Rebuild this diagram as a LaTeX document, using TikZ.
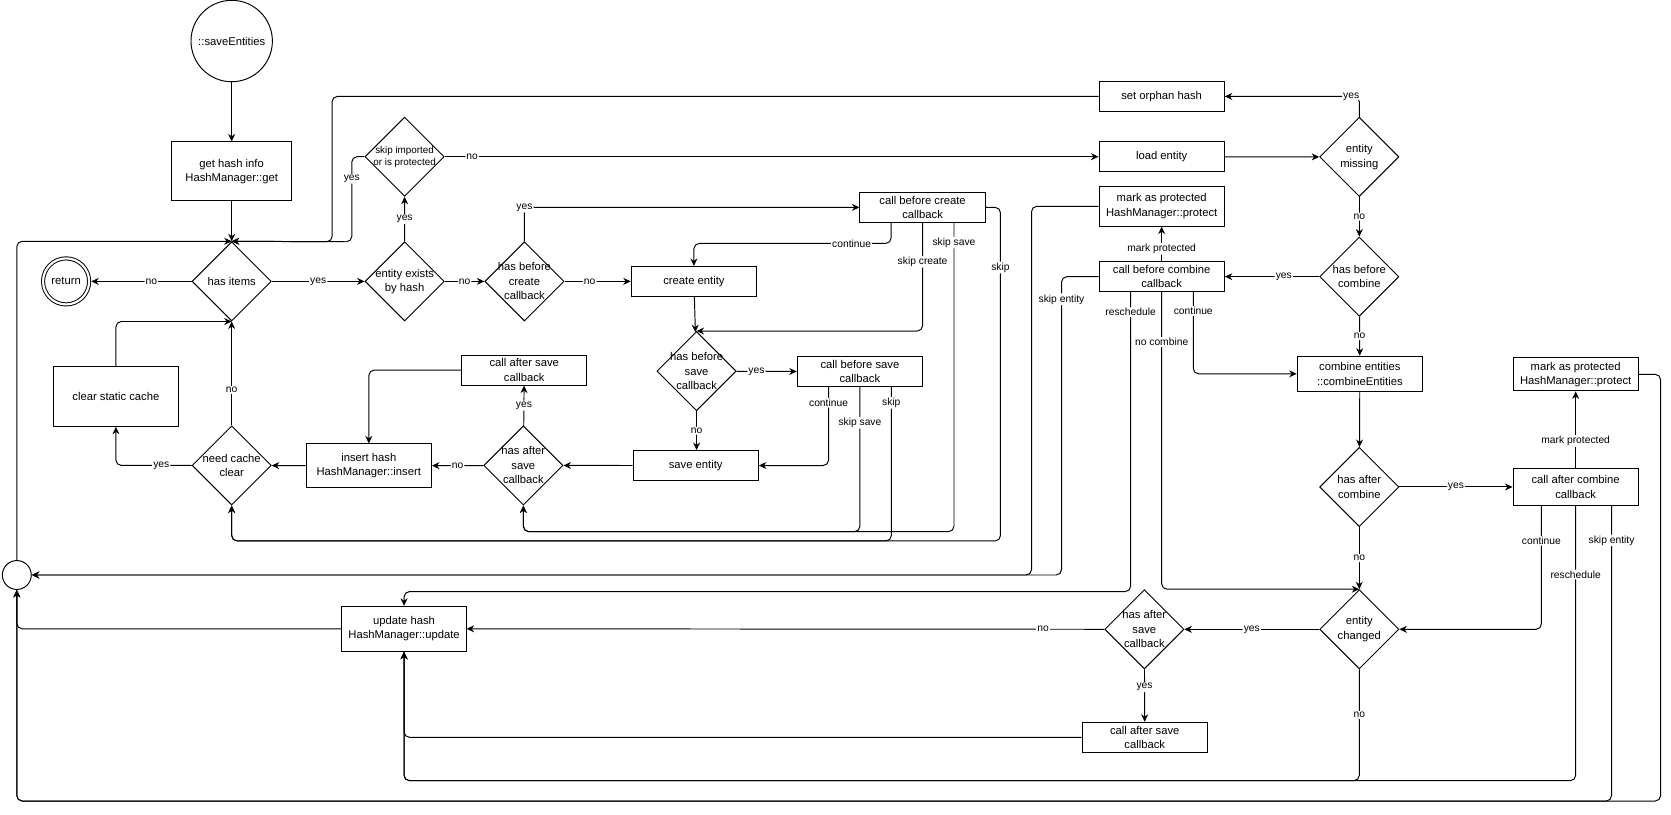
\documentclass[tikz,border=0pt]{standalone}
\usepackage{fontspec}
\setmainfont{Liberation Sans}
\usetikzlibrary{shapes.geometric}
\usetikzlibrary{arrows.meta}
\newcommand{\boxfont}{\fontsize{10.5}{13.5}\selectfont}
\newcommand{\edgefont}{\fontsize{9.6}{11}\selectfont}
\newcommand{\smallboxfont}{\fontsize{9.2}{11.2}\selectfont}
\tikzstyle{process}=[draw, rectangle, inner sep=0, minimum width=117pt, minimum height=28pt, align=center, font=\boxfont]
\tikzstyle{decision}=[draw, diamond, inner sep=0, minimum width=74pt, minimum height=74pt]
\tikzstyle{dtext}=[inner sep=0, align=center, font=\boxfont]
\tikzstyle{sdtext}=[dtext, font=\smallboxfont]
\tikzstyle{terminal}=[draw, circle, inner sep=0, font=\boxfont]
\tikzstyle{flow}=[-{Stealth[length=7pt, width=6.5pt]}, rounded corners=5pt]
\tikzstyle{lbl}=[fill=white, inner sep=1pt, font=\edgefont]
\tikzstyle{flowchart}=[x=1pt, y=-1pt, line width=0.9pt]

\begin{document}
\begin{tikzpicture}[flowchart]
        % page = drawing area
        \useasboundingbox (0, 0) rectangle (1560, 760);
        % left part
        \node[terminal, minimum size=76pt]                              (start) at (216.3, 38.3) {::saveEntities};
        \node[process, minimum width=112pt, minimum height=55pt]       (gethash) at (216.3, 160) {get hash info\\HashManager::get};
        \node[decision, label={[dtext]center:has items}]                (hasitems) at (216.3, 262.7) {};
        \node[terminal, double, double distance=2pt, outer sep=2pt, minimum size=43pt] (return) at (61.7, 262.7) {return};
        \node[decision, label={[sdtext]center:skip imported\\or is protected}] (skipimp) at (377.7, 146.3) {};
        \node[decision, label={[dtext]center:entity exists\\by hash}]   (exists) at (377.8, 262.7) {};
        \node[decision, label={[dtext]center:has before\\create\\callback}] (hasbefcreate) at (489.6, 262.7) {};
        \node[process]                                                  (createent) at (647.8, 262.7) {create entity};
        \node[process]                                                  (callbefcreate) at (861.3, 193.6) {call before create\\callback};
        \node[decision, label={[dtext]center:has before\\save\\callback}] (hasbefsave) at (650.3, 346.5) {};
        \node[process]                                                  (callbefsave) at (802.8, 347) {call before save\\callback};
        \node[process]                                                  (saveent) at (649.5, 434.6) {save entity};
        \node[decision, label={[dtext]center:has after\\save\\callback}] (hasaftsave) at (488.6, 434.5) {};
        \node[process]                                                  (callaftsave) at (489.4, 345.5) {call after save\\callback};
        \node[process, minimum height=41pt]                             (inserthash) at (344.3, 434.9) {insert hash\\HashManager::insert};
        \node[decision, label={[dtext]center:need cache\\clear}]        (needclear) at (216.3, 434.5) {};
        \node[process, minimum height=56pt]                             (clearcache) at (108.2, 370) {clear static cache};
        \node[terminal, minimum size=27pt]                              (junction) at (15.7, 536.8) {};
        \node[process, minimum width=116pt, minimum height=42pt]       (updatehash) at (377.2, 587) {update hash\\HashManager::update};
        % right part
        \node[process]                                                  (orphan) at (1084.5, 90) {set orphan hash};
        \node[process]                                                  (loadent) at (1084.5, 146.3) {load entity};
        \node[process, minimum height=37pt]                             (protect1) at (1084.5, 192.6) {mark as protected\\HashManager::protect};
        \node[process]                                                  (callbefcomb) at (1084.5, 258.3) {call before combine\\callback};
        \node[decision, label={[dtext]center:entity\\missing}]          (entmissing) at (1269, 146.5) {};
        \node[decision, label={[dtext]center:has before\\combine}]      (hasbefcomb) at (1269, 258.3) {};
        \node[process, minimum height=33pt]                             (combine) at (1269.5, 349) {combine entities\\::combineEntities};
        \node[decision, label={[dtext]center:has after\\combine}]       (hasaftcomb) at (1269, 454.6) {};
        \node[process, minimum height=35pt]                             (callaftcomb) at (1471, 454.6) {call after combine\\callback};
        \node[process, minimum height=31pt]                             (protect2) at (1471, 349.5) {mark as protected\\HashManager::protect};
        \node[decision, label={[dtext]center:entity\\changed}]          (entchanged) at (1269, 587.5) {};
        \node[decision, label={[dtext]center:has after\\save\\callback}] (hasaftsave2) at (1068.3, 587.5) {};
        \node[process]                                                  (callaftsave2) at (1068.7, 688.3) {call after save\\callback};
        % main loop
        \draw[flow] (start) -- (gethash);
        \draw[flow] (gethash) -- (hasitems);
        \draw[flow] (hasitems) -- node[lbl, pos=0.4] {no} (return);
        \draw[flow] (hasitems) -- node[lbl] {yes} (exists);
        \draw[flow] (exists) -- node[lbl] {yes} (skipimp);
        \draw[flow] (exists) -- node[lbl] {no} (hasbefcreate);
        \draw[flow] (skipimp.west) -| node[lbl, pos=0.63] {yes} (328.4, 225.7) -- (hasitems.north);
        \draw[flow] (orphan.west) -| (310, 225.7) -- (hasitems.north);
        \draw[flow] (junction.north) |- (hasitems.north);
        \draw[flow] (skipimp.east) -- node[lbl, pos=0.042] {no} (skipimp.east -| loadent.west);
        % create / save
        \draw[flow] (hasbefcreate.north) |- node[lbl, pos=0.5] {yes} (callbefcreate.west);
        \draw[flow] (hasbefcreate) -- node[lbl, pos=0.38] {no} (createent);
        \draw[flow] ([xshift=-29.4pt]callbefcreate.south) |- node[lbl, pos=0.6] {continue} ([yshift=21pt]createent.north) -- (createent.north);
        \draw[flow] (callbefcreate.south) |- node[lbl, pos=0.18] {skip create} (hasbefsave.north);
        \draw[flow] ([xshift=29.3pt]callbefcreate.south) -- node[lbl, pos=0.064] {skip save} (890.6, 496.3) -| (hasaftsave.south);
        \draw[flow] (callbefcreate.east) -- (934, 193.6) -- node[lbl, pos=0.18] {skip} (934, 505) -| (needclear.south);
        \draw[flow] (createent) -- (hasbefsave);
        \draw[flow] (hasbefsave) -- node[lbl, pos=0.33] {yes} (callbefsave);
        \draw[flow] (hasbefsave.south) -- node[lbl] {no} (hasbefsave.south |- saveent.north);
        \draw[flow] ([xshift=-29.3pt]callbefsave.south) |- node[lbl, pos=0.1] {continue} (saveent.east);
        \draw[flow] (callbefsave.south) -- node[lbl, pos=0.246] {skip save} (802.8, 496.3) -| (hasaftsave.south);
        \draw[flow] ([xshift=29.3pt]callbefsave.south) -- node[lbl, pos=0.101] {skip} (832.1, 505) -| (needclear.south);
        \draw[flow] (saveent) -- (hasaftsave);
        \draw[flow] (hasaftsave) -- node[lbl] {yes} (callaftsave);
        \draw[flow] (hasaftsave) -- node[lbl] {no} (inserthash);
        \draw[flow] (callaftsave.west) -| (inserthash.north);
        \draw[flow] (inserthash) -- (needclear);
        \draw[flow] (needclear) -- node[lbl, pos=0.34] {no} (hasitems);
        \draw[flow] (needclear.west) -| node[lbl, pos=0.2] {yes} (clearcache.south);
        \draw[flow] (clearcache.north) |- (hasitems.south);
        % load / combine
        \draw[flow] (loadent) -- (entmissing);
        \draw[flow] (entmissing.north) |- node[lbl, pos=0.53] {yes} (orphan.east);
        \draw[flow] (entmissing) -- node[lbl] {no} (hasbefcomb);
        \draw[flow] (hasbefcomb) -- node[lbl, pos=0.375] {yes} (callbefcomb);
        \draw[flow] (hasbefcomb) -- node[lbl] {no} (combine);
        \draw[flow] (callbefcomb) -- node[lbl, pos=0.36] {mark protected} (protect1);
        \draw[flow] (protect1.west) -| (963, 536.8) -- (junction.east);
        \draw[flow] (callbefcomb.west) -| node[lbl, pos=0.538] {skip entity} (991, 536.8) -- (junction.east);
        \draw[flow] ([xshift=-29pt]callbefcomb.south) -- node[lbl, pos=0.067] {reschedule} (1055.5, 552.3) -| (updatehash.north);
        \draw[flow] (callbefcomb.south) |- node[lbl, pos=0.084] {no combine} (entchanged.north);
        \draw[flow] ([xshift=29.5pt]callbefcomb.south) |- node[lbl, pos=0.115] {continue} (combine.west);
        \draw[flow] (combine) -- (hasaftcomb);
        \draw[flow] (hasaftcomb) -- node[lbl] {yes} (callaftcomb);
        \draw[flow] (hasaftcomb) -- node[lbl] {no} (entchanged);
        \draw[flow] (callaftcomb) -- node[lbl, pos=0.35] {mark protected} (protect2);
        \draw[flow] (protect2.east) -| (1550.3, 747.8) -| (junction.south);
        \draw[flow] ([xshift=-32pt]callaftcomb.south) |- node[lbl, pos=0.14] {continue} (entchanged.east);
        \draw[flow] (callaftcomb.south) -- node[lbl, pos=0.249] {reschedule} (1471, 728.8) -| (updatehash.south);
        \draw[flow] ([xshift=33.5pt]callaftcomb.south) -- node[lbl, pos=0.116] {skip entity} (1504.5, 747.8) -| (junction.south);
        % update
        \draw[flow] (entchanged) -- node[lbl] {yes} (hasaftsave2);
        \draw[flow] (entchanged.south) -- node[lbl, pos=0.41] {no} (1269, 728.8) -| (updatehash.south);
        \draw[flow] (hasaftsave2) -- node[lbl, pos=0.096] {no} (updatehash);
        \draw[flow] (hasaftsave2) -- node[lbl, pos=0.34] {yes} (callaftsave2);
        \draw[flow] (callaftsave2.west) -| (updatehash.south);
        \draw[flow] (updatehash.west) -| (junction.south);
\end{tikzpicture}
\end{document}
